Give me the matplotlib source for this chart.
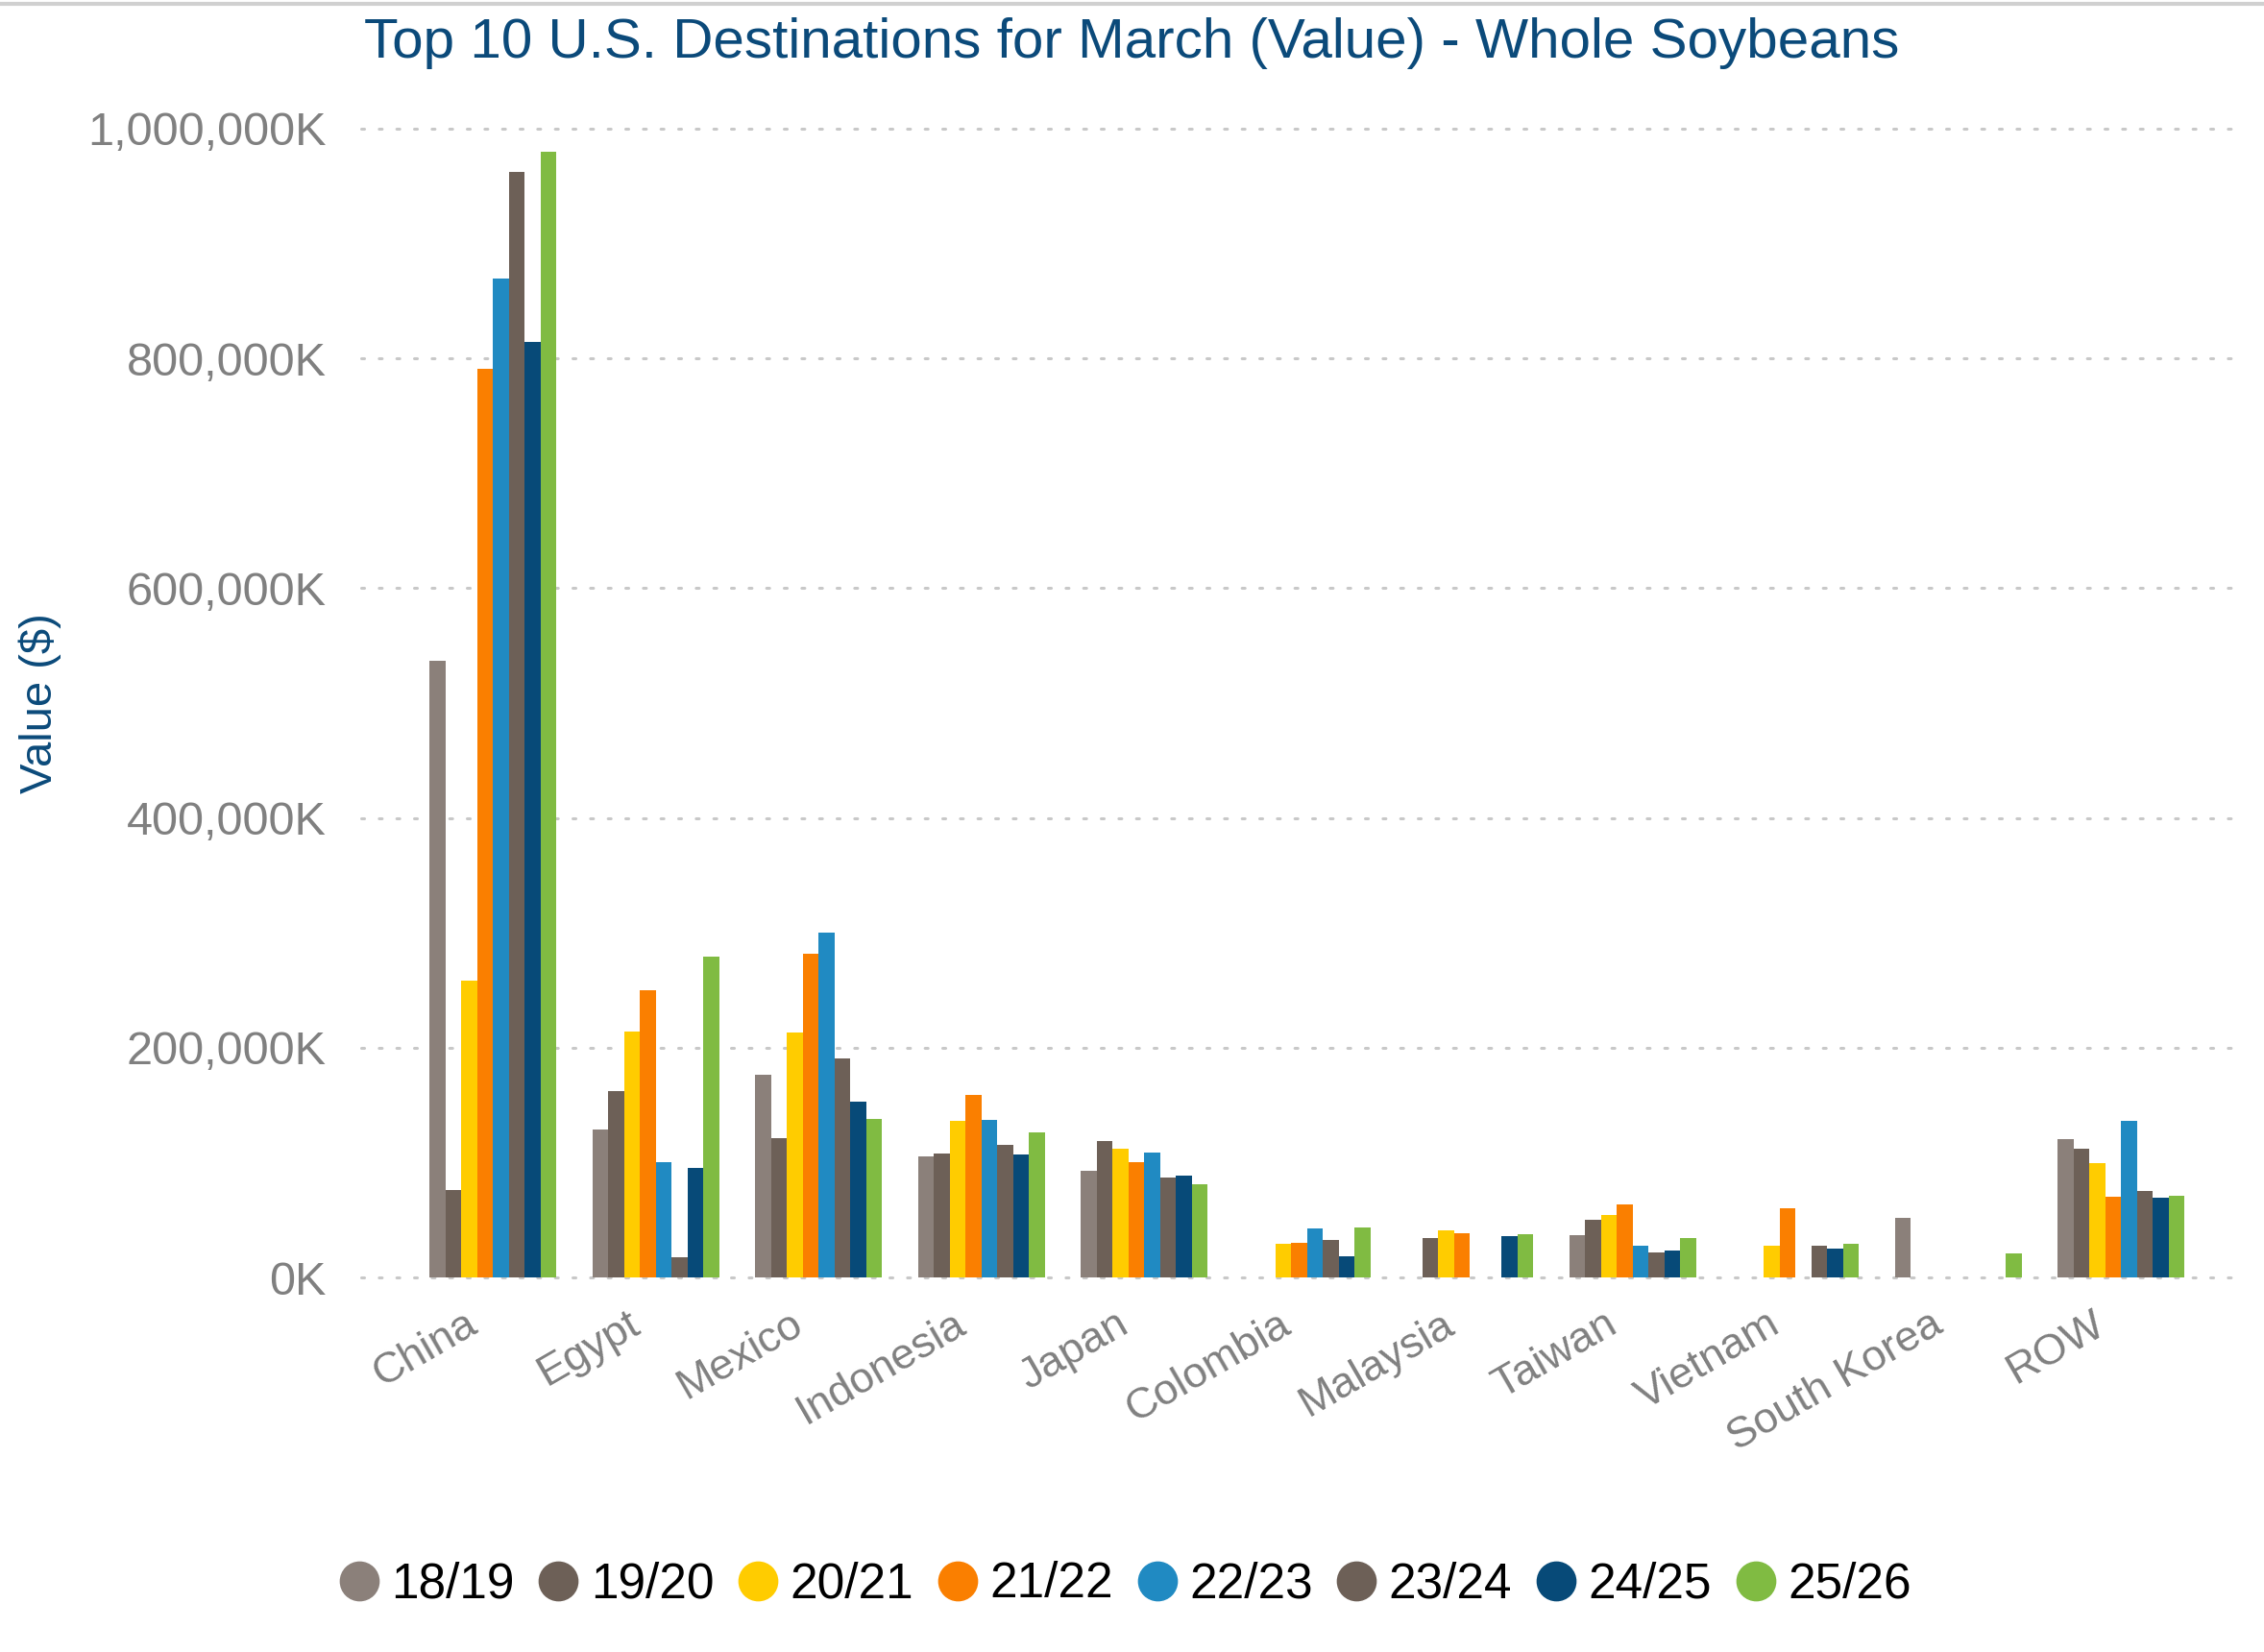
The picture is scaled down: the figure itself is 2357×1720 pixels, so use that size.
import matplotlib
matplotlib.use("Agg")
import matplotlib.pyplot as plt
import matplotlib.transforms as mtransforms
import numpy as np
from matplotlib.lines import Line2D

plt.rcParams['font.family'] = ['Liberation Sans', 'DejaVu Sans']

countries = ['China', 'Egypt', 'Mexico', 'Indonesia', 'Japan', 'Colombia',
             'Malaysia', 'Taiwan', 'Vietnam', 'South Korea', 'ROW']
seasons = ['18/19', '19/20', '20/21', '21/22', '22/23', '23/24', '24/25', '25/26']

# export value in $ thousands, 0 = not in the top 10 that year
v_1819 = [536700, 128500, 176500, 105300, 92700, 0, 0, 37000, 0, 51800, 120200]
v_1920 = [76000, 162300, 121200, 107800, 119000, 0, 34500, 50100, 0, 0, 111800]
v_2021 = [258000, 214200, 213400, 136300, 112300, 29400, 41200, 54300, 27400, 0, 99700]
v_2122 = [790700, 250000, 281400, 159200, 100500, 30200, 38700, 63900, 60500, 0, 70300]
v_2223 = [869300, 100800, 300300, 137100, 108600, 42900, 0, 27400, 0, 0, 136100]
v_2324 = [962000, 17300, 190800, 115600, 86900, 33000, 0, 21600, 27700, 0, 75600]
v_2425 = [814000, 95200, 153100, 107000, 88800, 18500, 36100, 23200, 25200, 0, 69500]
v_2526 = [980000, 278900, 138000, 126500, 81300, 43700, 37800, 34200, 29400, 20700, 71400]

series = [v_1819, v_1920, v_2021, v_2122, v_2223, v_2324, v_2425, v_2526]
colors = ['#8B807A', '#6D6057', '#FFCC00', '#FA7F00', '#208AC2', '#6D6057', '#074A78', '#80BB42']

fig = plt.figure(figsize=(23.57, 17.20), dpi=100)
ax = fig.add_axes([0.1595, 0.2267, 0.832, 0.6954])

x = np.arange(len(countries))
w = 0.0975
for i, (vals, c) in enumerate(zip(series, colors)):
    ax.bar(x + (i - 3.5) * w, vals, width=w, color=c, label=seasons[i], zorder=3)

ax.set_xlim(-0.81, 10.76)
ax.set_ylim(0, 1000000)
ax.set_yticks(np.arange(0, 1000001, 200000))
ax.set_yticklabels([f'{int(t):,}K' for t in ax.get_yticks()], fontsize=35, color='#808080')
ax.set_xticks(x)
ax.set_xticklabels(countries, fontsize=32.5, color='#808080', rotation=30,
                   ha='right', rotation_mode='anchor')
ax.tick_params(length=0)
ax.tick_params(axis='y', pad=26)
ax.tick_params(axis='x', pad=20)

# nudge the slanted country names left so they end under their group
shift = mtransforms.ScaledTranslation(-0.30, 0, fig.dpi_scale_trans)
for lbl in ax.get_xticklabels():
    lbl.set_transform(lbl.get_transform() + shift)

ax.yaxis.grid(True, color='#C8C8C8', linewidth=2.2, linestyle=(0, (1, 5)),
              dash_capstyle='round', zorder=0)
for grid_line in ax.get_ygridlines():
    grid_line.set_clip_on(False)
for s in ax.spines.values():
    s.set_visible(False)

ax.set_ylabel('Value ($)', fontsize=34, color='#0B4A7A')
ax.yaxis.set_label_coords(-0.159, 0.5)

fig.text(0.5, 0.974, 'Top 10 U.S. Destinations for March (Value) - Whole Soybeans',
         ha='center', va='center', fontsize=42, color='#0B4A7A')

# thin rule along the top edge
fig.add_artist(Line2D([0, 1], [0.9977, 0.9977], color='#D0D0D0', linewidth=3,
                      transform=fig.transFigure))

handles = [Line2D([], [], marker='o', linestyle='none', markersize=29,
                  markerfacecolor=c, markeredgecolor=c) for c in colors]
fig.legend(handles, seasons, loc='center', bbox_to_anchor=(0.497, 0.0407),
           ncol=8, frameon=False, fontsize=37, handletextpad=0.25,
           columnspacing=0.49, handlelength=0.8)

fig.savefig('out.png', dpi=100)
